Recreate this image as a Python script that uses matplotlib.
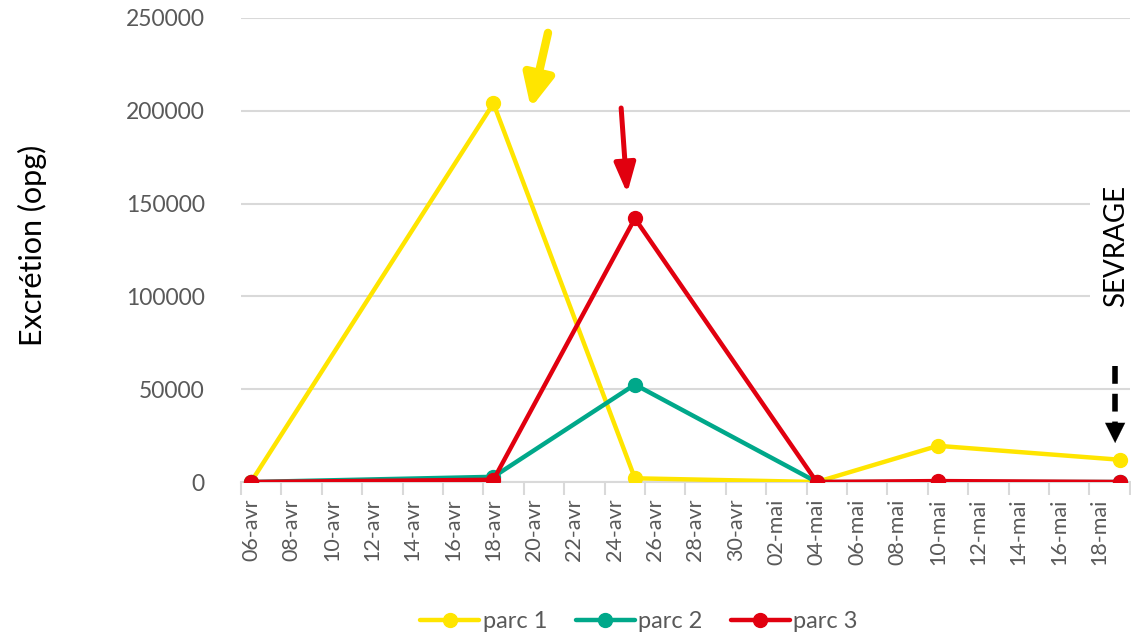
import matplotlib
matplotlib.use("Agg")
import matplotlib.pyplot as plt
import matplotlib.dates as mdates
import pandas as pd
import datetime as dt

plt.rcParams['font.family'] = ['Lato', 'DejaVu Sans']

# Sampling dates and egg counts per paddock
dates = ["2021-04-06", "2021-04-18", "2021-04-25", "2021-05-04", "2021-05-10", "2021-05-19"]
parc1 = [0, 204000, 2000, 0, 19500, 12000]
parc2 = [0, 2800, 52500, 0, 0, 0]
parc3 = [0, 1200, 142000, 0, 500, 0]
series_names = ["parc 1", "parc 2", "parc 3"]
colors = ["#FFE500", "#00A88A", "#E1000F"]

y_ticks = [0, 50000, 100000, 150000, 200000, 250000]
month_abbr = {4: "avr", 5: "mai"}

x = pd.to_datetime(dates)
start = x[0].to_pydatetime()
end = x[-1].to_pydatetime()

fig = plt.figure(figsize=(11.31, 6.38), dpi=100)
ax = fig.add_axes([0.213, 0.2445, 0.786, 0.7273])

for vals, name, c in zip([parc1, parc2, parc3], series_names, colors):
    ax.plot(x, vals, color=c, lw=3.2, marker='o', markersize=10,
            solid_capstyle='round', label=name, zorder=3)

half = dt.timedelta(hours=12)
ax.set_xlim(mdates.date2num(start - half), mdates.date2num(end + half))
ax.set_ylim(0, 250000)

# Labelled ticks every two days, tick marks offset by half a day
label_days = pd.date_range(start, end, freq='2D')
ax.set_xticks(mdates.date2num(label_days))
ax.set_xticklabels([f"{d.day:02d}-{month_abbr[d.month]}" for d in label_days],
                   rotation=90, fontsize=15.5, color="#595959")
ax.tick_params(axis='x', which='major', length=0, pad=12)
mark_days = pd.date_range(start - half, end + half, freq='2D')
ax.set_xticks(mdates.date2num(mark_days), minor=True)
ax.tick_params(axis='x', which='minor', length=9, width=1.5, color="#D9D9D9")

ax.set_yticks(y_ticks)
ax.set_yticklabels([str(v) for v in y_ticks], fontsize=16.5, color="#595959")
ax.tick_params(axis='y', length=0, pad=26)
ax.grid(axis='y', color="#D9D9D9", lw=1.5)
ax.set_axisbelow(True)
for s in ['top', 'right', 'left']:
    ax.spines[s].set_visible(False)
ax.spines['bottom'].set_color("#D9D9D9")
ax.spines['bottom'].set_linewidth(1.5)

fig.text(0.029, 0.615, "Excrétion (opg)", rotation=90, fontsize=22,
         ha='center', va='center', color="black")

# Peak arrows
def dnum(d):
    return mdates.date2num(start + dt.timedelta(days=d))

ax.annotate('', xy=(dnum(13.85), 201500), xytext=(dnum(14.7), 242000),
            arrowprops=dict(arrowstyle='-|>,head_length=0.95,head_width=0.45',
                            mutation_scale=20, lw=6, color="#FFE500",
                            shrinkA=0, shrinkB=0), zorder=4)
ax.annotate('', xy=(dnum(18.62), 155500), xytext=(dnum(18.32), 201500),
            arrowprops=dict(arrowstyle='-|>,head_length=0.9,head_width=0.32',
                            mutation_scale=20, lw=3.6, color="#E1000F",
                            shrinkA=0, shrinkB=0), zorder=4)

# Weaning marker
ax.plot([dnum(42.77), dnum(42.77)], [62500, 30000], color="black", lw=4,
        dashes=(3.2, 1.8), zorder=4)
ax.annotate('', xy=(dnum(42.77), 21000), xytext=(dnum(42.77), 30500),
            arrowprops=dict(arrowstyle='-|>,head_length=0.9,head_width=0.45',
                            mutation_scale=16, lw=0.1, color="black",
                            shrinkA=0, shrinkB=0), zorder=4)
ax.text(dnum(42.8), 127000, "SEVRAGE", rotation=90, fontsize=20, ha='center',
        va='center', color="black", zorder=5,
        bbox=dict(boxstyle='square,pad=0.45', fc='white', ec='none'))

leg = fig.legend(loc='center', bbox_to_anchor=(0.565, 0.026), ncol=3, frameon=False,
                 fontsize=17, handlelength=2.5, handletextpad=0.15, columnspacing=1.2)
for t in leg.get_texts():
    t.set_color("#595959")

fig.savefig("out.png", dpi=100)
